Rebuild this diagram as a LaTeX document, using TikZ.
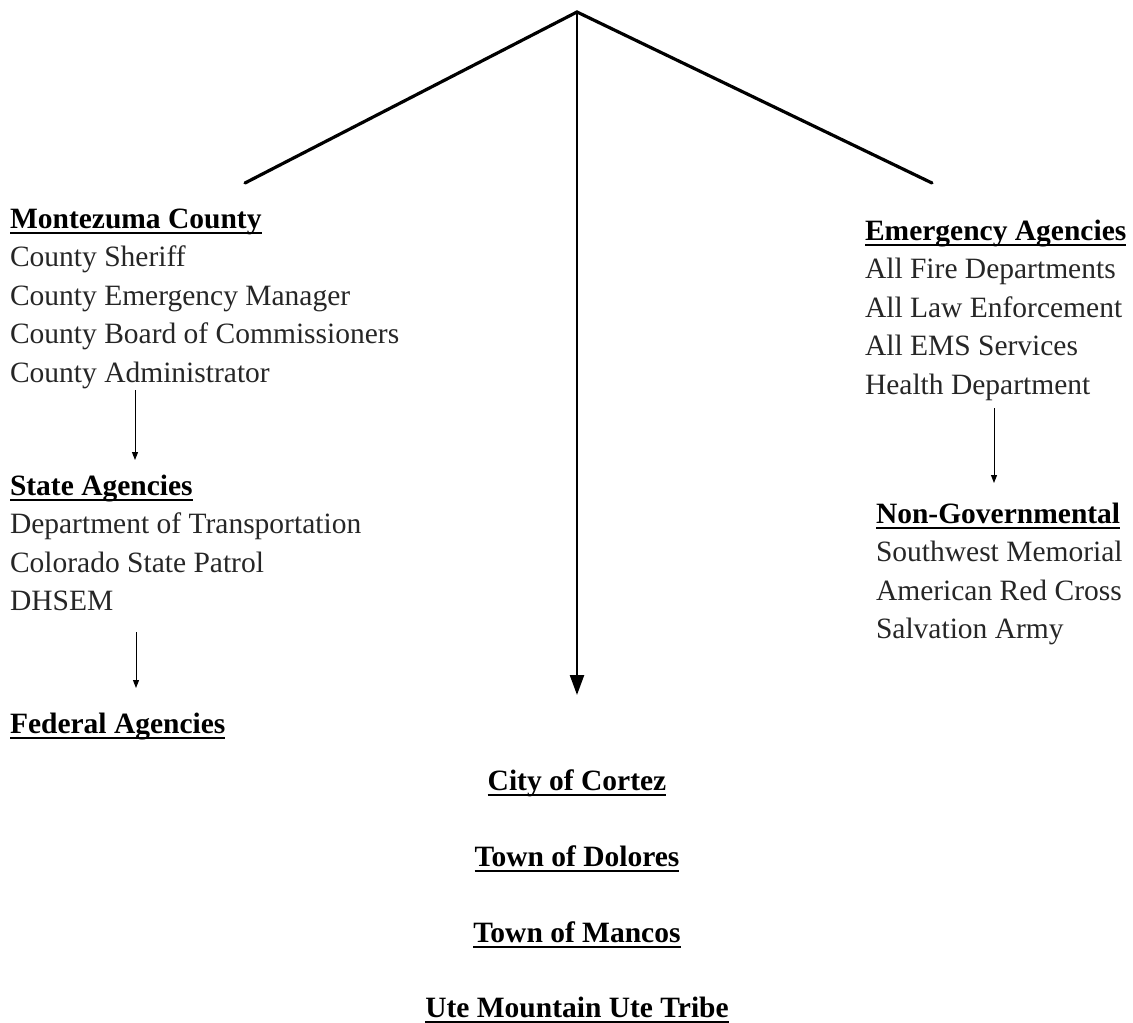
\documentclass[tikz,border=0pt]{standalone}
\usepackage{fontspec}
\setmainfont{Liberation Serif}
\usetikzlibrary{arrows.meta}
\newcommand\hd[1]{\setbox0\hbox{\bfseries #1}\rlap{\rule[-6pt]{\wd0}{2.2pt}}\box0}
\tikzset{
  txt/.style={inner sep=0pt, outer sep=0pt, font=\fontsize{29.5}{38.5}\selectfont, text=black!85},
  hdr/.style={txt, text=black},
  main/.style={line width=3.2pt, line cap=round},
  mainarr/.style={line width=2.4pt, -{Triangle[width=14pt,length=20pt]}},
  smallarr/.style={line width=1pt, -{Triangle[width=6pt,length=8pt]}}
}
\begin{document}
\begin{tikzpicture}[x=1pt,y=-1pt]
\useasboundingbox (0,0) rectangle (1133,1023);
% top connectors
\coordinate (apex) at (577,12);
\coordinate (lend) at (245,183);
\coordinate (rend) at (932,183);
\coordinate (cend) at (577,695);
\draw[main] (lend) -- (apex) -- (rend);
\draw[mainarr] (apex) -- (cend);

% Montezuma County
\node[hdr, anchor=base west] (mc) at (10,228) {\hd{Montezuma County}};
\foreach \t [count=\i] in {County Sheriff, County Emergency Manager, County Board of Commissioners, County Administrator}
  \node[txt, anchor=base west] (mc\i) at (10,228+38.5*\i) {\t};

% State Agencies
\node[hdr, anchor=base west] (sa) at (10,495) {\hd{State Agencies}};
\foreach \t [count=\i] in {Department of Transportation, Colorado State Patrol, DHSEM}
  \node[txt, anchor=base west] (sa\i) at (10,495+38.5*\i) {\t};

% Federal Agencies
\node[hdr, anchor=base west] (fa) at (10,733) {\hd{Federal Agencies}};

% Emergency Agencies
\node[hdr, anchor=base west] (ea) at (865,240) {\hd{Emergency Agencies}};
\foreach \t [count=\i] in {All Fire Departments, All Law Enforcement, All EMS Services, Health Department}
  \node[txt, anchor=base west] (ea\i) at (865,240+38.5*\i) {\t};

% Non-Governmental
\node[hdr, anchor=base west] (ng) at (876,523) {\hd{Non-Governmental}};
\foreach \t [count=\i] in {Southwest Memorial, American Red Cross, Salvation Army}
  \node[txt, anchor=base west] (ng\i) at (876,523+38.5*\i) {\t};

% Municipal / tribal
\node[hdr, anchor=base] (cc) at (577,790) {\hd{City of Cortez}};
\node[hdr, anchor=base] (td) at (577,866) {\hd{Town of Dolores}};
\node[hdr, anchor=base] (tm) at (577,942) {\hd{Town of Mancos}};
\node[hdr, anchor=base] (ut) at (577,1017) {\hd{Ute Mountain Ute Tribe}};

% small arrows
\coordinate (a1s) at (135,390);
\coordinate (a1e) at (135,460);
\coordinate (a2s) at (136,632);
\coordinate (a2e) at (136,688);
\coordinate (a3s) at (994,408);
\coordinate (a3e) at (994,483);
\draw[smallarr] (a1s) -- (a1e);
\draw[smallarr] (a2s) -- (a2e);
\draw[smallarr] (a3s) -- (a3e);
\end{tikzpicture}
\end{document}
